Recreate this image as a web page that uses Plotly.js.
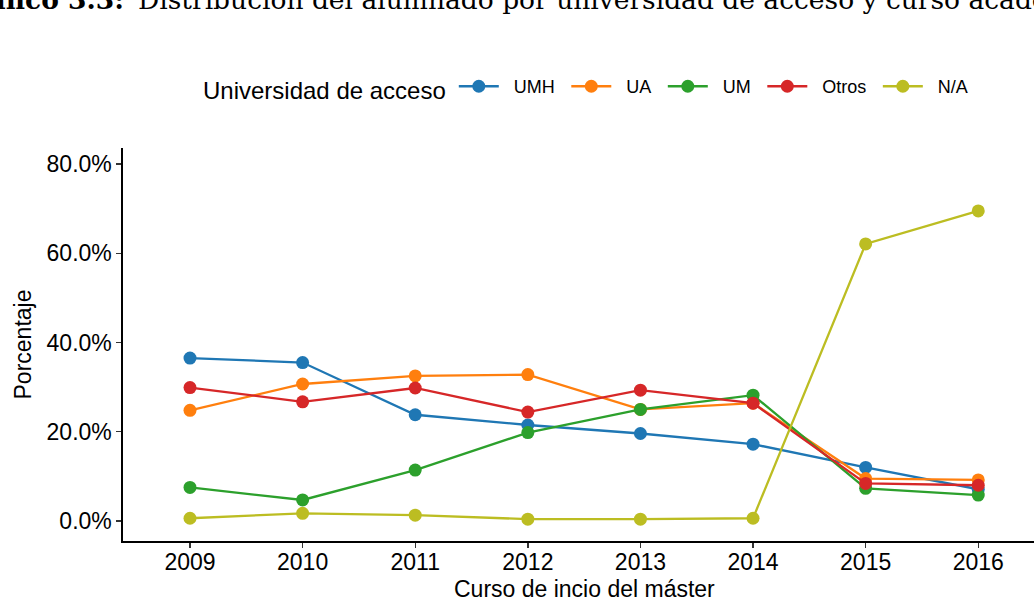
<!DOCTYPE html>
<html>
<head>
<meta charset="utf-8">
<script src="https://cdn.plot.ly/plotly-3.0.1.min.js"></script>
<style>html,body{margin:0;padding:0;background:#fff;overflow:hidden}#chart{width:1034px;height:599px}</style>
</head>
<body>
<div id="chart"></div>
<script>
const years = [2009, 2010, 2011, 2012, 2013, 2014, 2015, 2016];
const seriesNames = ["UMH", "UA", "UM", "Otros", "N/A"];
const umh   = [36.5, 35.5, 23.8, 21.5, 19.6, 17.2, 12.0, 7.1];
const ua    = [24.8, 30.7, 32.5, 32.8, 25.0, 26.4, 9.5, 9.2];
const um    = [7.5, 4.7, 11.4, 19.8, 25.0, 28.2, 7.3, 5.8];
const otros = [29.9, 26.7, 29.8, 24.4, 29.3, 26.4, 8.4, 8.0];
const na    = [0.6, 1.7, 1.3, 0.4, 0.4, 0.6, 62.1, 69.5];
const yTicks = [0, 20, 40, 60, 80];
const colors = ["#1f77b4", "#ff7f0e", "#2ca02c", "#d62728", "#bcbd22"];
const values = [umh, ua, um, otros, na];
const NB = "\u00a0";

const traces = values.map((v, i) => ({
  x: years, y: v, name: NB + NB + seriesNames[i] + NB + "\u200A", type: "scatter", mode: "lines+markers",
  line: {color: colors[i], width: 2.3},
  marker: {color: colors[i], size: 13},
  cliponaxis: false
}));

const font = "Liberation Sans, Arial, Helvetica, sans-serif";
const layout = {
  width: 1034, height: 599,
  margin: {l: 123, r: 0, t: 148, b: 58},
  paper_bgcolor: "#fff", plot_bgcolor: "#fff",
  font: {family: font, color: "#000", size: 23},
  showlegend: true,
  legend: {
    orientation: "h", x: 0.0856, xanchor: "left", y: 1.15, yanchor: "middle",
    title: {text: "Universidad de acceso", font: {size: 24, color: "#000"}, side: "left"},
    font: {size: 18, color: "#000"},
    itemwidth: 40
  },
  xaxis: {
    range: [2008.405, 2016.495], tickvals: years, ticktext: years.map(String),
    showgrid: false, zeroline: false, showline: true, linecolor: "#000", linewidth: 1.6,
    ticks: "outside", ticklen: 5, tickwidth: 1.4, tickcolor: "#333",
    tickfont: {size: 23, color: "#000"}, ticklabelstandoff: -5
  },
  yaxis: {
    range: [-4.5, 83.6], tickvals: yTicks, ticktext: yTicks.map(t => t.toFixed(1) + "%"),
    showgrid: false, zeroline: false, showline: true, linecolor: "#000", linewidth: 1.6,
    ticks: "outside", ticklen: 5, tickwidth: 1.4, tickcolor: "#333",
    tickfont: {size: 23, color: "#000"},
    title: {text: "Porcentaje", font: {size: 23, color: "#000"}, standoff: 8}
  },
  annotations: [
    {text: "Curso de incio del máster", xref: "paper", yref: "paper", x: 0.5066, xanchor: "center",
     y: -0.122, yanchor: "middle", showarrow: false, font: {size: 23, color: "#000"}},
    {text: "<b>Gráfico 3.3:</b>", xref: "paper", yref: "paper", x: 0.0033, xanchor: "right",
     y: 1.3333, yanchor: "bottom", showarrow: false,
     font: {family: "DejaVu Serif, Liberation Serif, serif", size: 26.5, color: "#000"}},
    {text: "Distribución del alumnado por universidad de acceso y curso académico",
     xref: "paper", yref: "paper", x: 0.0143, xanchor: "left",
     y: 1.3333, yanchor: "bottom", showarrow: false,
     font: {family: "DejaVu Serif, Liberation Serif, serif", size: 26.5, color: "#000"}}
  ]
};

Plotly.newPlot("chart", traces, layout, {displayModeBar: false, staticPlot: true});
</script>
</body>
</html>
